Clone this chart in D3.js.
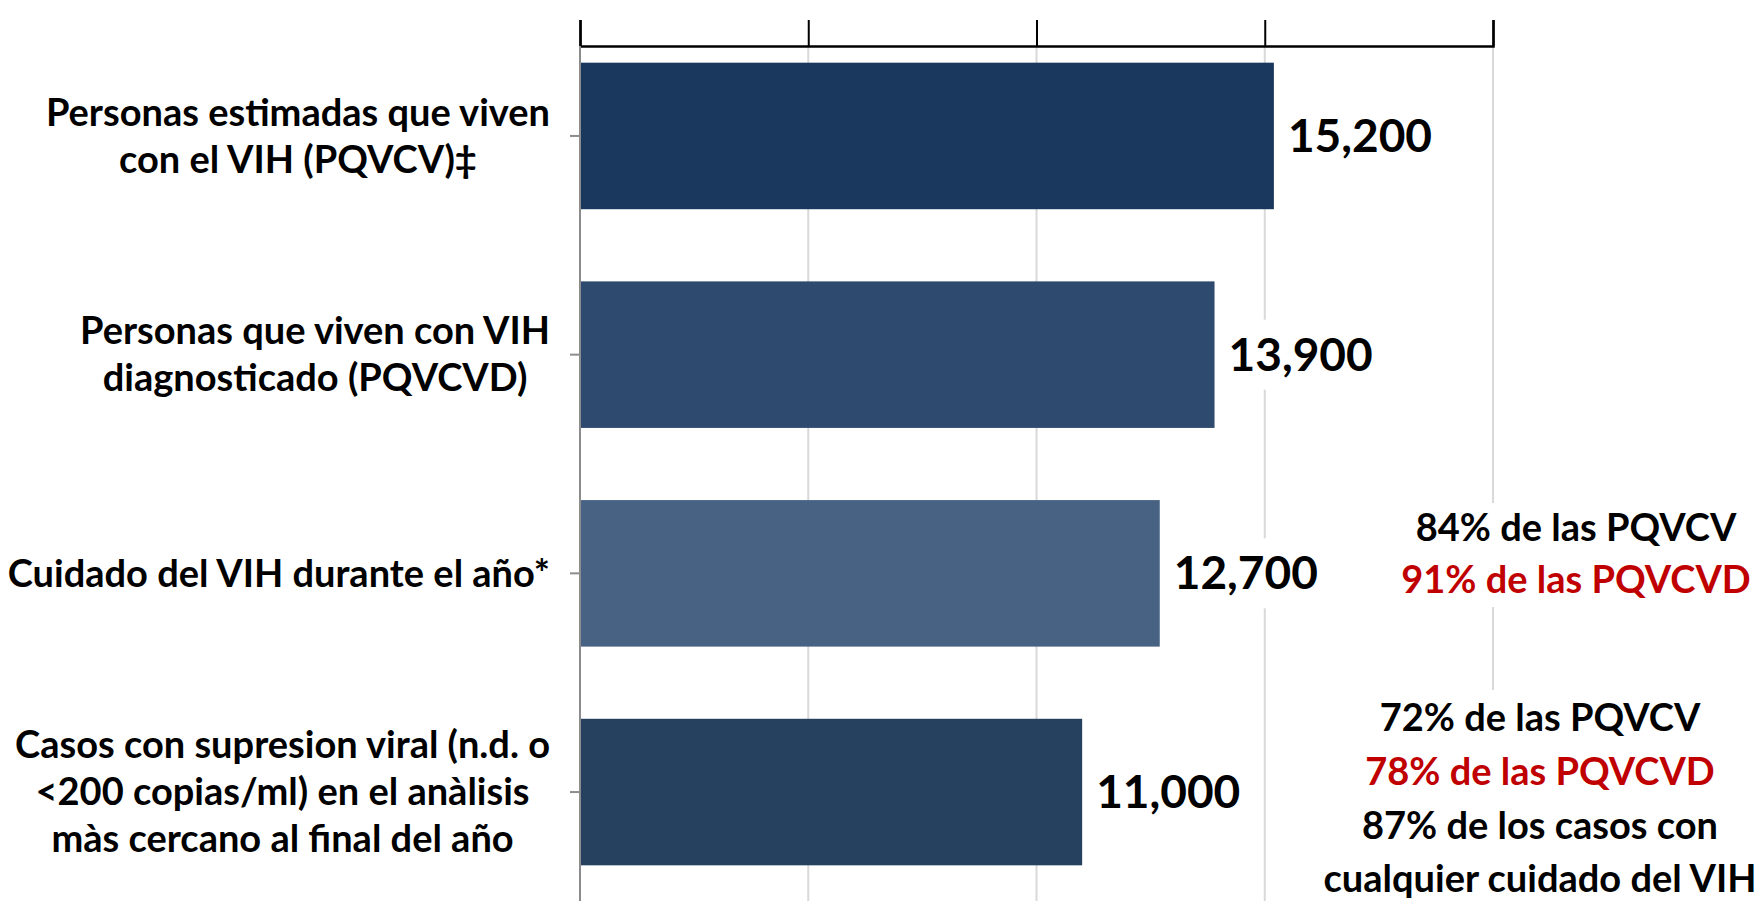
<!DOCTYPE html>
<html>
<head>
<meta charset="utf-8">
<script src="https://cdn.jsdelivr.net/npm/d3@7/dist/d3.min.js"></script>
<style>
    body { margin: 0; background: #fff; }
    text { font-family: Lato, "Open Sans", sans-serif; font-weight: bold; }
</style>
</head>
<body>
<script>
'use strict';

// chart data
var categories = [
    ['Personas estimadas que viven', 'con el VIH (PQVCV)\u2021'],
    ['Personas que viven con VIH', 'diagnosticado (PQVCVD)'],
    ['Cuidado del VIH durante el año*'],
    ['Casos con supresion viral (n.d. o', '<200 copias/ml) en el anàlisis', 'màs cercano al final del año']
];
var values = [15200, 13900, 12700, 11000];
var barColors = ['#1a375e', '#2e4a6e', '#476283', '#26405f'];
var xTicks = [0, 5000, 10000, 15000, 20000];

var note1 = [
    { text: '84% de las PQVCV', color: '#000' },
    { text: '91% de las PQVCVD', color: '#c00000' }
];
var note2 = [
    { text: '72% de las PQVCV', color: '#000' },
    { text: '78% de las PQVCVD', color: '#c00000' },
    { text: '87% de los casos con', color: '#000' },
    { text: 'cualquier cuidado del VIH', color: '#000' }
];

var width = 1763;
var height = 901;

var svg = d3.select('body').append('svg')
    .attr('width', width)
    .attr('height', height);

var x = d3.scaleLinear()
    .domain([0, 20000])
    .range([580, 1493]);

var y = d3.scaleBand()
    .domain(d3.range(categories.length))
    .range([26.6, 901.4])
    .paddingInner(0.33)
    .paddingOuter(0.165);

// gridlines
svg.append('g')
    .selectAll('line')
    .data(xTicks.slice(1))
    .enter().append('line')
    .attr('x1', function(d) { return x(d); })
    .attr('x2', function(d) { return x(d); })
    .attr('y1', 46)
    .attr('y2', height)
    .attr('stroke', '#d9d9d9')
    .attr('stroke-width', 2);

// bars
svg.append('g')
    .selectAll('rect')
    .data(values)
    .enter().append('rect')
    .attr('x', x(0))
    .attr('y', function(d, i) { return y(i); })
    .attr('width', function(d) { return x(d) - x(0); })
    .attr('height', y.bandwidth())
    .attr('fill', function(d, i) { return barColors[i]; });

// top axis, ticks only
var topAxis = svg.append('g')
    .attr('transform', 'translate(0,46)')
    .call(d3.axisTop(x).tickValues(xTicks).tickSize(26).tickFormat(''));
topAxis.select('.domain').attr('stroke', '#000').attr('stroke-width', 2.5);
topAxis.selectAll('.tick line').attr('stroke', '#000').attr('stroke-width', 2);

// left axis
var leftAxis = svg.append('g')
    .attr('transform', 'translate(' + x(0) + ',0)')
    .call(d3.axisLeft(y).tickSize(10).tickSizeOuter(0).tickFormat(''));
leftAxis.select('.domain').attr('stroke', '#8c8c8c').attr('stroke-width', 2)
    .attr('d', 'M0,46V' + height);
leftAxis.selectAll('.tick line').attr('stroke', '#8c8c8c').attr('stroke-width', 2);

// category labels: each block centred, right edge of the widest line at 550
var labelSize = 38;
var lineGap = 47;
categories.forEach(function(lines, i) {
    var g = svg.append('g');
    var cy = y(i) + y.bandwidth() / 2;
    var t = g.selectAll('text')
        .data(lines)
        .enter().append('text')
        .attr('text-anchor', 'middle')
        .attr('font-size', labelSize)
        .attr('dy', '0.35em')
        .attr('y', function(d, j) { return cy + (j - (lines.length - 1) / 2) * lineGap; })
        .text(function(d) { return d; });
    var maxW = d3.max(t.nodes(), function(n) { return n.getComputedTextLength(); });
    t.attr('x', 550 - maxW / 2);
});

// value labels with white box behind
var fmt = d3.format(',');
values.forEach(function(v, i) {
    var cy = y(i) + y.bandwidth() / 2;
    var g = svg.append('g');
    var r = g.append('rect').attr('fill', '#fff');
    var t = g.append('text')
        .attr('x', x(v) + 14)
        .attr('y', cy)
        .attr('dy', '0.35em')
        .attr('font-size', 46)
        .text(fmt(v));
    var w = t.node().getComputedTextLength();
    r.attr('x', x(v) + 8).attr('y', cy - 35).attr('width', w + 14).attr('height', 70);
});

// annotation boxes
function note(lines, cx, top, firstY, gap) {
    var g = svg.append('g');
    var r = g.append('rect').attr('fill', '#fff');
    var t = g.selectAll('text')
        .data(lines)
        .enter().append('text')
        .attr('x', cx)
        .attr('y', function(d, j) { return firstY + j * gap; })
        .attr('dy', '0.35em')
        .attr('text-anchor', 'middle')
        .attr('font-size', 38)
        .attr('fill', function(d) { return d.color; })
        .text(function(d) { return d.text; });
    var maxW = d3.max(t.nodes(), function(n) { return n.getComputedTextLength(); });
    var bottom = firstY + (lines.length - 1) * gap + 27;
    r.attr('x', cx - maxW / 2 - 8).attr('y', top)
        .attr('width', maxW + 16).attr('height', bottom - top);
}
note(note1, 1576, 503, 528, 52);
note(note2, 1540, 690, 718, 53.7);
</script>
</body>
</html>
